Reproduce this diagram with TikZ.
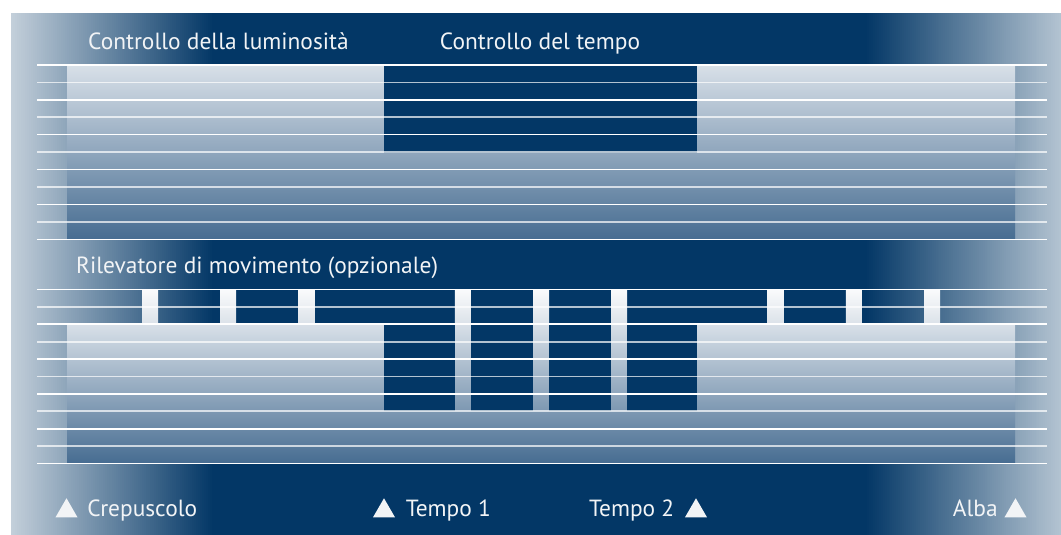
\documentclass[tikz,border=0pt]{standalone}
\usepackage{xcolor}
\usepackage{fontspec}
\setmainfont{PT Sans}
\usepackage{tikz}
\usetikzlibrary{
  positioning,
  shapes.geometric
}
\definecolor{nightblue}{RGB}{3,55,102}
\definecolor{duskgrey}{RGB}{195,207,218}
\definecolor{dawngrey}{RGB}{180,196,210}
\definecolor{paneltop}{RGB}{216,224,232}
\definecolor{panelbottom}{RGB}{70,108,145}
\definecolor{bartop}{RGB}{250,251,252}
\definecolor{barbottom}{RGB}{219,226,233}
\definecolor{captiontext}{RGB}{242,244,246}

\begin{document}
\begin{tikzpicture}[
  x=1pt, y=1pt,
  node distance=13pt,
  caption/.style={
    text=captiontext,
    font=\fontsize{23.4}{28}\selectfont,
    inner sep=0pt,
    text height=16pt, text depth=5pt
  },
  pointer/.style={
    regular polygon, regular polygon sides=3,
    fill=captiontext, inner sep=0pt, minimum size=25.5pt
  },
  hardrule/.style={white, line width=1.4pt},
  softrule/.style={white, opacity=.7, line width=1.8pt}
]
\useasboundingbox (0,0) rectangle (1061,-535);
\fill[white] (0,0) rectangle (1061,-535);
\fill[nightblue] (200,-13) rectangle (880,-535);
\foreach \s in {0,...,99} {
  \fill[nightblue!\s!duskgrey] ({11+2.01*\s},-13) rectangle ++(2.2,-522);
  \fill[dawngrey!\s!nightblue] ({865+1.96*\s},-13) rectangle ++(2.1,-522);
}

\shade[top color=paneltop, bottom color=panelbottom] (67,-65) rectangle (1015,-239.5);
\fill[nightblue] (384,-65) rectangle (697,-152.5);

\shade[top color=paneltop, bottom color=panelbottom] (67,-324) rectangle (1015,-463.7);
\foreach \a/\b in {384/455,471/533,549/611,627/697}
  \fill[nightblue] (\a,-324) rectangle (\b,-411);
\foreach \k in {0,1,2,4,5,6,8,9,10}
  \shade[top color=bartop, bottom color=barbottom] ({142+78.2*\k},-289.3) rectangle ++(16,-34.7);

\foreach \top in {65,289.3} {
  \foreach \i in {0,2,...,10}
    \draw[hardrule] (37,-\top-17.44*\i) -- (1047,-\top-17.44*\i);
  \foreach \i in {1,3,...,9}
    \draw[softrule] (37,-\top-17.44*\i) -- (1047,-\top-17.44*\i);
}

\node[caption, anchor=base west] (luminosity) at (88,-50) {Controllo della luminosità};
\node[caption, anchor=base] (timer) at (540,-50) {Controllo del tempo};
\node[caption, anchor=base west] (motion) at (76,-273) {Rilevatore di movimento (opzionale)};

\node[pointer] (dusk-mark) at (66.5,-511) {};
\node[pointer] (time1-mark) at (384,-511) {};
\node[pointer] (time2-mark) at (696,-511) {};
\node[pointer] (dawn-mark) at (1015.5,-511) {};
\node[caption, right=of dusk-mark] (dusk) {Crepuscolo};
\node[caption, right=14pt of time1-mark] (time1) {Tempo 1};
\node[caption, left=14pt of time2-mark] (time2) {Tempo 2};
\node[caption, left=10pt of dawn-mark] (dawn) {Alba};
\end{tikzpicture}
\end{document}
